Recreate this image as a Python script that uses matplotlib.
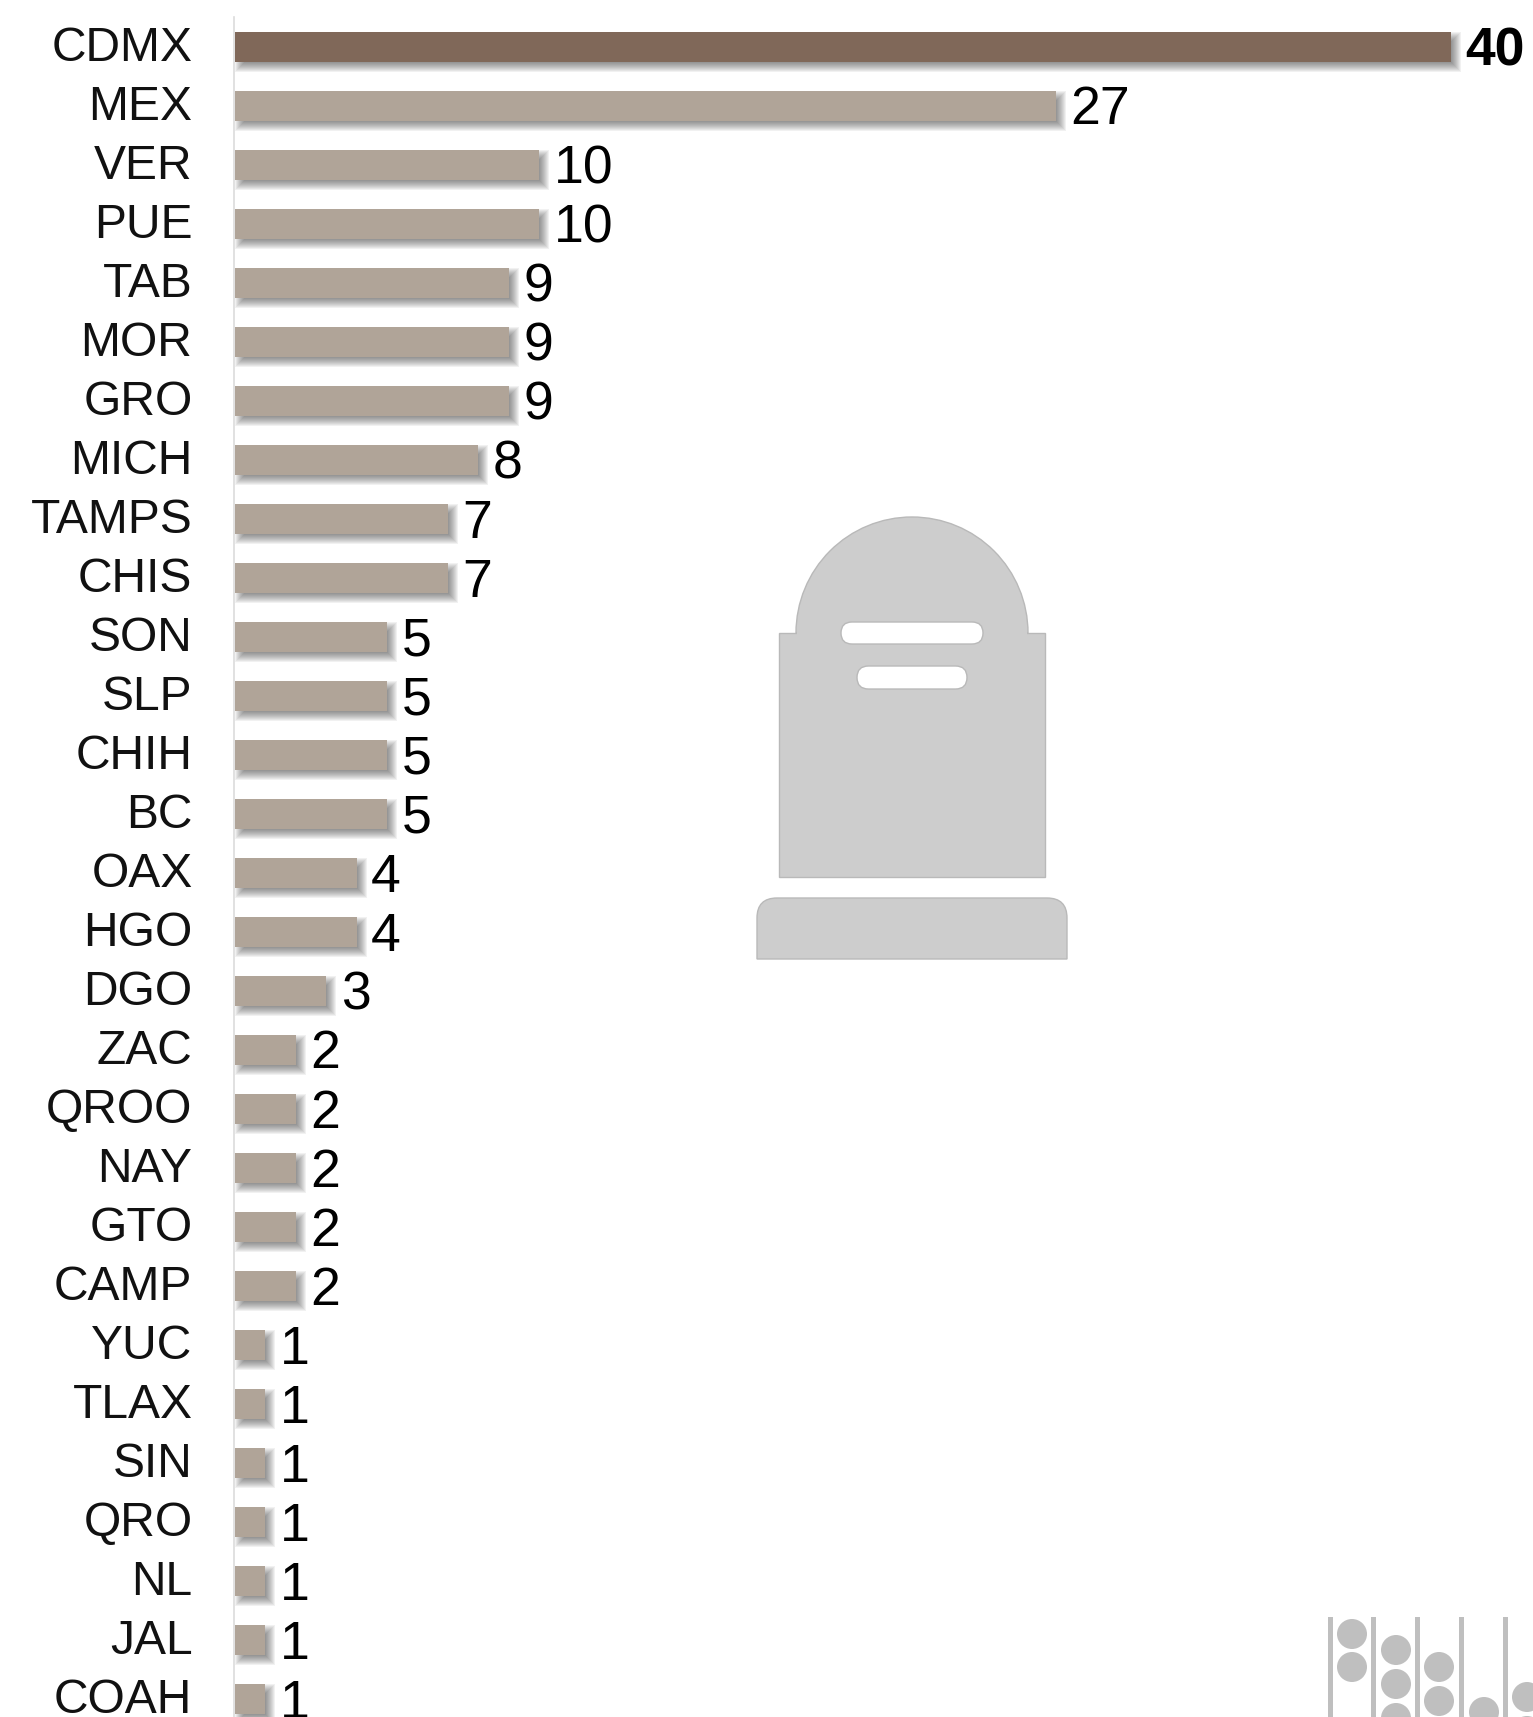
#!/usr/bin/env python3
# -*- coding: utf-8 -*-
import matplotlib
matplotlib.use('Agg')
import matplotlib.pyplot as plt
from matplotlib.patches import Circle, FancyBboxPatch, PathPatch, Rectangle, Wedge
from matplotlib.path import Path

estados = ['CDMX', 'MEX', 'VER', 'PUE', 'TAB', 'MOR', 'GRO', 'MICH', 'TAMPS', 'CHIS',
           'SON', 'SLP', 'CHIH', 'BC', 'OAX', 'HGO', 'DGO', 'ZAC', 'QROO', 'NAY',
           'GTO', 'CAMP', 'YUC', 'TLAX', 'SIN', 'QRO', 'NL', 'JAL', 'COAH']
valores = [40, 27, 10, 10, 9, 9, 9, 8, 7, 7,
           5, 5, 5, 5, 4, 4, 3, 2, 2, 2,
           2, 2, 1, 1, 1, 1, 1, 1, 1]

W, H = 1533, 1717
OSCURO = '#806859'
CLARO = '#b0a498'
ICONO = '#cdcdcd'
BORDE = '#b9b9b9'
ABACO = '#bfbfbf'

plt.rcParams['font.family'] = ['Liberation Sans', 'DejaVu Sans']

fig = plt.figure(figsize=(W / 100, H / 100), dpi=100, facecolor='white')

# axes: x=0 en 235 px, 30.4 px por unidad; cada fila 59 px
px_x = 30.4
px_y = 59.0
ax = fig.add_axes([235 / W, 0, (W - 235) / W, (H - 17) / H])
ax.set_xlim(0, (W - 235) / px_x)
ax.set_ylim((H - 47) / px_y, (17 - 47) / px_y)
ax.patch.set_alpha(0)

posiciones = list(range(len(estados)))
colores = [OSCURO] + [CLARO] * (len(estados) - 1)

# sombra difusa: capas de poca opacidad, desplazadas 5 px
for k in range(11):
    crece = 5 - k
    ax.barh([p + 5 / px_y for p in posiciones],
            [v + 2 * crece / px_x for v in valores],
            left=(5 - crece) / px_x,
            height=(30 + crece * 2) / px_y,
            color='#333333', alpha=0.065, linewidth=0, zorder=1)

ax.barh(posiciones, valores, height=30 / px_y, color=colores, linewidth=0, zorder=2)

for i, v in enumerate(valores):
    ax.annotate(str(v), (v, i), xytext=(14.5, -4.5), textcoords='offset pixels',
                va='center', ha='left', fontsize=38.5, color='black',
                fontweight='bold' if i == 0 else 'normal', zorder=3,
                annotation_clip=False)

# etiquetas de estado
ax.set_yticks([])
ax.set_xticks([])
for i, e in enumerate(estados):
    ax.annotate(e, (0, i), xytext=(-42.5, -1.5), textcoords='offset pixels',
                va='center', ha='right', fontsize=34.6, color='#111111',
                annotation_clip=False)
for s in ['top', 'right', 'bottom']:
    ax.spines[s].set_visible(False)
ax.spines['left'].set_color('#dcdcdc')
ax.spines['left'].set_linewidth(1.2)
ax.spines['left'].set_position(('outward', 0.8))

# capa de iconos en pixeles de la figura
deco = fig.add_axes([0, 0, 1, 1], zorder=-1)
deco.set_xlim(0, W)
deco.set_ylim(H, 0)
deco.axis('off')

# lapida
kw = dict(facecolor=ICONO, edgecolor=BORDE, linewidth=1)
deco.add_patch(Wedge((912, 633), 116, 180, 360, **kw))
deco.add_patch(Rectangle((779, 633), 266, 244, **kw))
deco.add_patch(Rectangle((797, 625), 230, 12, facecolor=ICONO, linewidth=0))
base = Path([(757, 959), (757, 918), (757, 898), (777, 898), (1047, 898),
             (1067, 898), (1067, 918), (1067, 959), (757, 959)],
            [Path.MOVETO, Path.LINETO, Path.CURVE3, Path.CURVE3, Path.LINETO,
             Path.CURVE3, Path.CURVE3, Path.LINETO, Path.CLOSEPOLY])
deco.add_patch(PathPatch(base, **kw))
for x0, x1, y0, y1 in [(841, 983, 622, 644), (857, 967, 666, 689)]:
    r = (y1 - y0) / 2
    deco.add_patch(FancyBboxPatch((x0 + r, y0 + r), x1 - x0 - 2 * r, 0.01,
                                  boxstyle='round,pad=%.1f,rounding_size=%.1f' % (r, r),
                                  facecolor='white', edgecolor=BORDE, linewidth=1))

# abaco
for x in [1328, 1371, 1415, 1459, 1503]:
    deco.add_patch(Rectangle((x, 1617), 5, 110, facecolor=ABACO, edgecolor='none'))
for cx, cy in [(1352, 1634), (1352, 1667), (1396, 1650), (1396, 1684), (1396, 1718),
               (1439, 1667), (1439, 1701), (1484, 1712), (1527, 1697), (1527, 1731)]:
    deco.add_patch(Circle((cx, cy), 15, facecolor=ABACO, edgecolor='none'))

fig.savefig('out.png', dpi=100)
